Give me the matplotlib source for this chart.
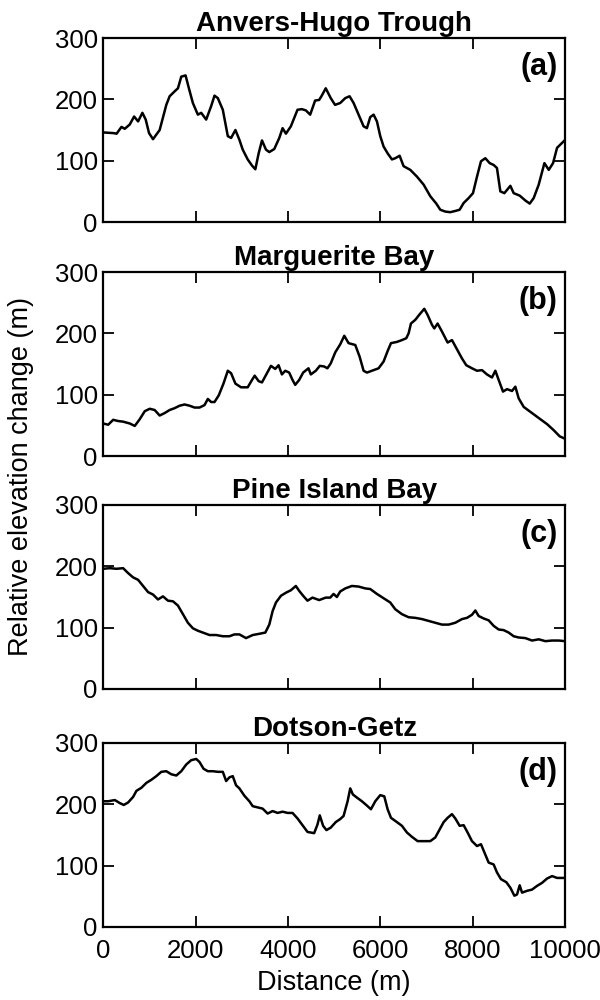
import matplotlib
matplotlib.use('Agg')
import matplotlib.pyplot as plt

plt.rcParams['font.family'] = ['Liberation Sans', 'DejaVu Sans']

# Panel (a) Anvers-Hugo Trough
dist_a = [0, 216, 290, 395, 467, 575, 669, 755, 848, 920, 992, 1078, 1222, 1366, 1438,
          1546, 1618, 1690, 1783, 1855, 1941, 2049, 2121, 2229, 2337, 2409, 2481, 2589,
          2697, 2768, 2862, 2948, 3020, 3128, 3221, 3293, 3365, 3437, 3523, 3595, 3703,
          3811, 3883, 3955, 4062, 4206, 4300, 4386, 4480, 4587, 4674, 4731, 4817, 4925,
          5018, 5130, 5240, 5333, 5420, 5528, 5636, 5708, 5780, 5853, 5925, 5997, 6069,
          6156, 6250, 6322, 6416, 6502, 6647, 6791, 6935, 7080, 7210, 7296, 7404, 7513,
          7621, 7715, 7802, 7910, 8004, 8091, 8177, 8271, 8365, 8451, 8523, 8596, 8683,
          8813, 8885, 9015, 9138, 9232, 9318, 9427, 9550, 9644, 9737, 9824, 10000]
elev_a = [146, 145, 144, 155, 152, 159, 172, 164, 178, 167, 145, 135, 150, 191, 205,
          213, 218, 237, 239, 218, 194, 175, 178, 167, 189, 206, 202, 183,
          140, 137, 150, 134, 118, 102, 92, 86, 112, 133, 118, 114, 119,
          137, 153, 144, 156, 183, 184, 182, 175, 198, 199, 206, 218, 202,
          191, 194, 202, 205, 194, 175, 156, 153, 171, 175, 164, 140, 123,
          112, 102, 104, 108, 91, 85, 74, 61, 42, 30, 20, 17, 16,
          18, 20, 31, 39, 47, 74, 99, 104, 96, 93, 88, 50, 47,
          59, 47, 43, 35, 30, 39, 61, 96, 85, 96, 121, 134]

# Panel (b) Marguerite Bay
dist_b = [0, 108, 216, 324, 431, 575, 683, 791, 899, 1007, 1114, 1222, 1330, 1438, 1546,
          1654, 1762, 1869, 1977, 2085, 2193, 2265, 2337, 2409, 2502, 2603, 2697, 2768,
          2862, 2984, 3128, 3221, 3279, 3365, 3437, 3523, 3631, 3724, 3796, 3868, 3940,
          4026, 4098, 4156, 4242, 4328, 4443, 4494, 4602, 4688, 4781, 4853, 4925, 5023,
          5130, 5218, 5311, 5456, 5550, 5636, 5708, 5817, 5961, 6069, 6156, 6229, 6358,
          6466, 6560, 6611, 6661, 6755, 6849, 6950, 7022, 7116, 7166, 7238, 7332, 7455,
          7549, 7643, 7766, 7859, 7982, 8091, 8199, 8307, 8415, 8488, 8560, 8654, 8741,
          8849, 8921, 8993, 9102, 9246, 9390, 9462, 9607, 9752, 9882, 10000]
elev_b = [53, 51, 59, 57, 56, 53, 49, 60, 73, 77, 75, 66, 70, 75, 78,
          82, 84, 82, 79, 79, 83, 93, 88, 88, 99, 118, 139, 135,
          118, 112, 112, 124, 131, 122, 120, 132, 147, 142, 148, 133, 139,
          136, 124, 116, 124, 136, 143, 133, 139, 147, 146, 143, 151, 169,
          182, 196, 184, 181, 162, 139, 136, 139, 143, 154, 171, 184, 186,
          189, 192, 200, 216, 222, 231, 240, 230, 214, 208, 216, 203, 185,
          189, 176, 159, 148, 143, 139, 140, 133, 128, 139, 124, 105, 109,
          106, 113, 94, 80, 72, 64, 60, 52, 42, 32, 28]

# Panel (c) Pine Island Bay
dist_c = [0, 144, 288, 431, 539, 647, 755, 863, 971, 1078, 1186, 1294, 1402, 1510, 1618,
          1726, 1833, 1941, 2049, 2157, 2301, 2445, 2589, 2732, 2840, 2948, 3092, 3236,
          3379, 3509, 3595, 3667, 3739, 3847, 3955, 4062, 4170, 4242, 4328, 4422, 4530,
          4674, 4817, 4914, 4986, 5058, 5130, 5240, 5383, 5528, 5672, 5780, 5925, 6069,
          6214, 6322, 6466, 6611, 6755, 6900, 7044, 7188, 7332, 7477, 7621, 7766, 7874,
          7982, 8055, 8127, 8235, 8343, 8451, 8560, 8668, 8777, 8885, 8993, 9138, 9282,
          9427, 9571, 9716, 9860, 10000]
elev_c = [196, 197, 196, 197, 189, 182, 178, 168, 158, 154, 146, 151, 144, 143, 136,
          122, 108, 99, 95, 92, 88, 88, 86, 86, 89, 89, 83, 88,
          90, 92, 105, 127, 141, 152, 157, 161, 168, 160, 152, 144, 149,
          145, 149, 149, 155, 150, 159, 164, 168, 167, 164, 163, 155, 148,
          141, 130, 122, 117, 116, 114, 111, 108, 105, 105, 108, 114, 116,
          121, 128, 119, 115, 112, 103, 97, 96, 92, 86, 84, 83, 79,
          81, 78, 79, 79, 78]

# Panel (d) Dotson-Getz
dist_d = [0, 108, 252, 360, 446, 539, 647, 719, 827, 935, 1042, 1150, 1258, 1366, 1474,
          1582, 1690, 1798, 1905, 2013, 2085, 2172, 2265, 2373, 2481, 2589, 2661, 2732,
          2804, 2876, 2948, 3056, 3164, 3236, 3344, 3451, 3559, 3667, 3775, 3883, 3991,
          4098, 4206, 4314, 4422, 4566, 4638, 4688, 4760, 4832, 4925, 5033, 5130, 5203,
          5290, 5347, 5405, 5492, 5600, 5708, 5795, 5889, 5997, 6084, 6156, 6229, 6358,
          6466, 6575, 6683, 6806, 6935, 7080, 7188, 7282, 7369, 7455, 7549, 7621, 7715,
          7802, 7888, 7982, 8091, 8177, 8271, 8343, 8451, 8523, 8610, 8726, 8813, 8900,
          8957, 9015, 9066, 9174, 9282, 9390, 9499, 9607, 9716, 9824, 10000]
elev_d = [205, 205, 207, 202, 199, 203, 212, 222, 227, 235, 240, 246, 253, 254, 249,
          247, 254, 265, 272, 274, 269, 258, 254, 254, 253, 253, 238, 244,
          246, 231, 226, 214, 205, 197, 195, 193, 185, 189, 186, 188, 186,
          186, 177, 166, 155, 153, 167, 182, 165, 158, 162, 171, 176, 181,
          205, 226, 216, 211, 205, 198, 192, 205, 215, 213, 192, 178, 171,
          165, 154, 147, 140, 140, 140, 146, 159, 171, 178, 184, 177, 165,
          166, 154, 140, 132, 135, 118, 105, 102, 89, 78, 73, 64, 51,
          53, 68, 56, 59, 61, 67, 72, 79, 83, 80, 80]

titles = ['Anvers-Hugo Trough', 'Marguerite Bay', 'Pine Island Bay', 'Dotson-Getz']
labels = ['(a)', '(b)', '(c)', '(d)']
series = [(dist_a, elev_a), (dist_b, elev_b), (dist_c, elev_c), (dist_d, elev_d)]

fig = plt.figure(figsize=(6, 10), dpi=100)
bottoms = [0.778, 0.544, 0.311, 0.073]

for i, (x, y) in enumerate(series):
    ax = fig.add_axes([0.172, bottoms[i], 0.770, 0.184])
    ax.plot(x, y, color='black', linewidth=1.8)
    ax.set_xlim(0, 10000)
    ax.set_ylim(0, 300)
    ax.set_yticks([0, 100, 200, 300])
    ax.set_xticks([0, 2000, 4000, 6000, 8000, 10000])
    ax.tick_params(direction='in', length=8, width=1.3, top=True, right=True,
                   labelsize=18.5)
    ax.tick_params(axis='y', pad=4)
    ax.tick_params(axis='x', pad=9)
    for s in ax.spines.values():
        s.set_linewidth(1.6)
    ax.set_title(titles[i], fontsize=20, fontweight='bold', pad=5)
    ax.text(0.983, 0.84, labels[i], transform=ax.transAxes, ha='right', va='center',
            fontsize=22, fontweight='bold')
    if i < 3:
        ax.tick_params(labelbottom=False)
    else:
        ax.set_xlabel('Distance (m)', fontsize=19.5, labelpad=5)

fig.text(0.035, 0.523, 'Relative elevation change (m)', rotation=90, ha='center',
         va='center', fontsize=19.5)

plt.savefig('out.png', dpi=100)
